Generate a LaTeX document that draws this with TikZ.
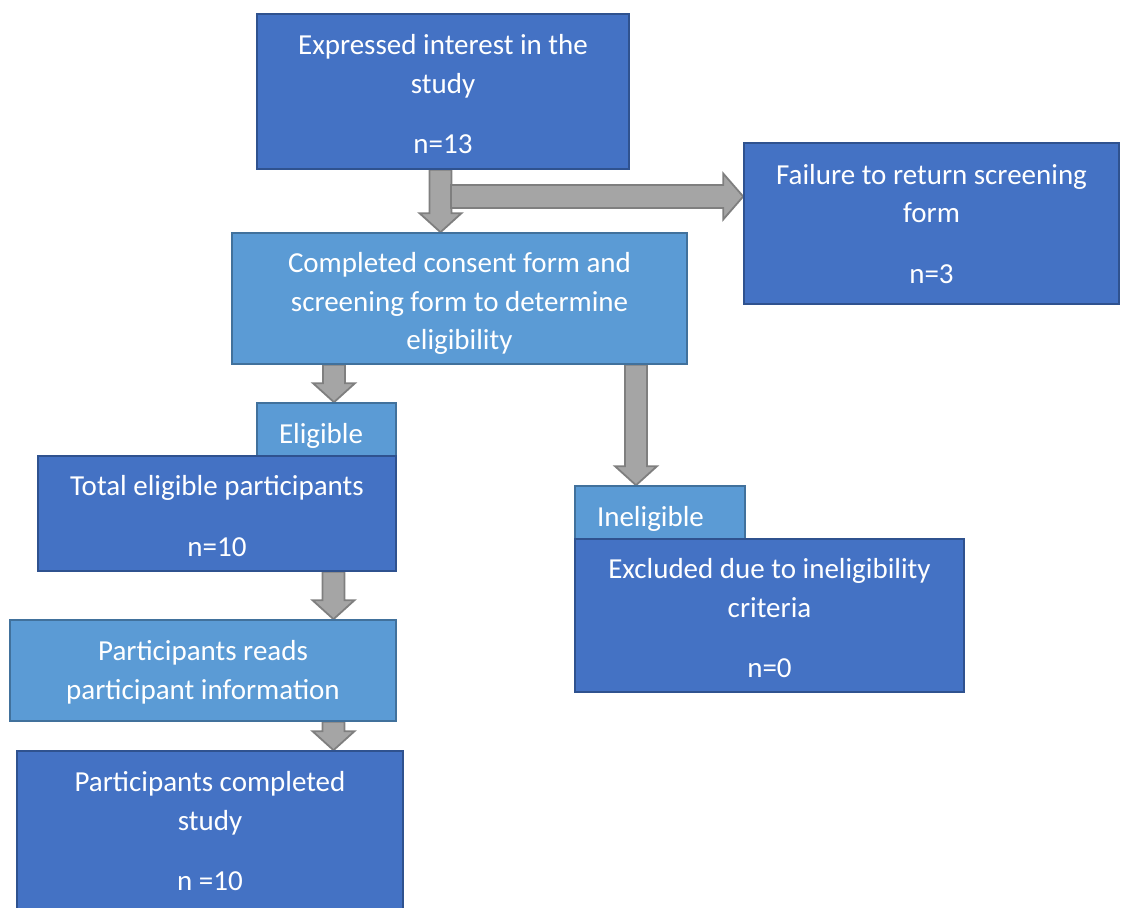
\documentclass[tikz,border=0pt]{standalone}
\usepackage{fontspec}
\setmainfont{Carlito}
\usetikzlibrary{calc,backgrounds}
\definecolor{darkbox}{HTML}{4472C4}
\definecolor{darkedge}{HTML}{2F528F}
\definecolor{lightbox}{HTML}{5B9BD5}
\definecolor{lightedge}{HTML}{41719C}
\definecolor{arrfill}{HTML}{A5A5A5}
\definecolor{arredge}{HTML}{7F7F7F}
\tikzset{
  boxbase/.style={rectangle, text=white, align=center, inner sep=0pt, line width=1.6pt,
    font=\fontsize{29}{38.5}\selectfont},
  darkstep/.style={boxbase, fill=darkbox, draw=darkedge},
  lightstep/.style={boxbase, fill=lightbox, draw=lightedge},
  tabbox/.style={boxbase, fill=lightbox, draw=lightedge, align=left, inner xsep=22pt},
  boxtext/.style={text=white, align=center, inner sep=0pt, font=\fontsize{29}{38.5}\selectfont},
  blk/.style={fill=arrfill, draw=arredge, line width=1.8pt, line join=miter},
}
\newcommand\blkdown[3]{%
  \draw[blk] let \p1=(#2.south), \p2=(#3.north) in
    (#1-11pt,\y1) -- (#1+11pt,\y1) -- (#1+11pt,\y2+19pt) -- (#1+21pt,\y2+19pt)
    -- (#1,\y2) -- (#1-21pt,\y2+19pt) -- (#1-11pt,\y2+19pt) -- cycle;}
\newcommand\blkright[2]{%
  \draw[blk] let \p1=(#1), \p2=(#2.west) in
    (\x1,\y1+11.5pt) -- (\x2-20pt,\y1+11.5pt) -- (\x2-20pt,\y1+23pt) -- (\x2,\y1)
    -- (\x2-20pt,\y1-23pt) -- (\x2-20pt,\y1-11.5pt) -- (\x1,\y1-11.5pt) -- cycle;}
\begin{document}
\begin{tikzpicture}
\useasboundingbox (0pt,0pt) rectangle (1125pt,-908pt);
\node[darkstep, minimum width=372pt, minimum height=155pt,
  label={[boxtext, yshift=-3pt]center:{Expressed interest in the\\study\\[22pt]n=13}}]
  (interest) at (443pt,-91.5pt) {};
\node[darkstep, minimum width=375pt, minimum height=161pt,
  label={[boxtext, yshift=-0.5pt]center:{Failure to return screening\\form\\[22pt]n=3}}]
  (fail) at (931.5pt,-223.5pt) {};
\node[lightstep, minimum width=455pt, minimum height=131pt,
  label={[boxtext, yshift=-5pt]center:{Completed consent form and\\screening form to determine\\eligibility}}]
  (consent) at (459.5pt,-298.5pt) {};
\node[tabbox, text width=95pt, minimum height=53pt, text height=28pt, text depth=0pt]
  (eligtab) at (326.5pt,-429.5pt) {Eligible};
\node[darkstep, minimum width=358pt, minimum height=115pt,
  label={[boxtext, yshift=-2.5pt]center:{Total eligible participants\\[22pt]n=10}}]
  (total) at (217pt,-513.5pt) {};
\node[lightstep, minimum width=386pt, minimum height=101pt,
  label={[boxtext, yshift=-2pt]center:{Participants reads\\participant information}}]
  (reads) at (203pt,-670.5pt) {};
\node[darkstep, minimum width=386pt, minimum height=161pt,
  label={[boxtext]center:{Participants completed\\study\\[22pt]n =10}}]
  (done) at (210pt,-831.5pt) {};
\node[tabbox, text width=126pt, minimum height=53pt, text height=28pt, text depth=0pt]
  (ineltab) at (660pt,-512.5pt) {Ineligible};
\node[darkstep, minimum width=389pt, minimum height=153pt,
  label={[boxtext, yshift=-3pt]center:{Excluded due to ineligibility\\criteria\\[22pt]n=0}}]
  (excl) at (769.5pt,-615.5pt) {};
\coordinate (a2start) at (451pt,-196.5pt);
\begin{scope}[on background layer]
  \blkdown{440.5pt}{interest}{consent}
  \blkright{a2start}{fail}
  \blkdown{334pt}{consent}{eligtab}
  \blkdown{636pt}{consent}{ineltab}
  \blkdown{333.5pt}{total}{reads}
  \blkdown{333.5pt}{reads}{done}
\end{scope}
\end{tikzpicture}
\end{document}
